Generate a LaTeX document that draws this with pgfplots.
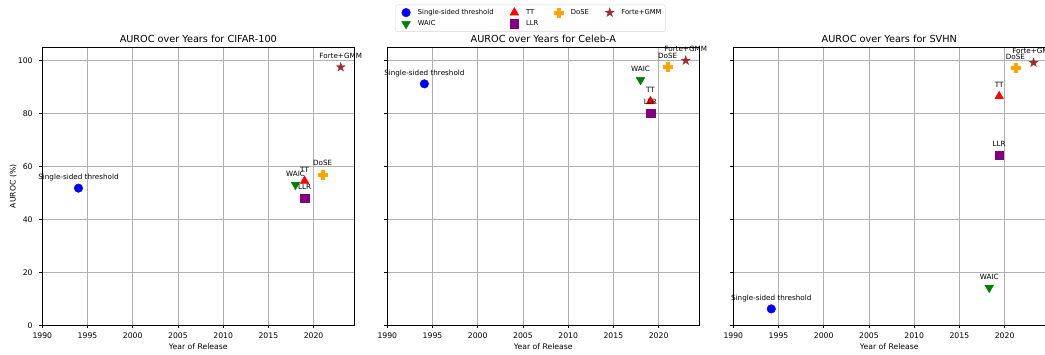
\documentclass[border=0pt]{standalone}
\usepackage{fontspec}
\setmainfont{DejaVu Sans}
\usepackage{pgfplots}
\pgfplotsset{compat=1.18}

\definecolor{cblue}{RGB}{0,0,255}
\definecolor{cgreen}{RGB}{0,128,0}
\definecolor{cred}{RGB}{255,0,0}
\definecolor{cpurple}{RGB}{128,0,128}
\definecolor{corange}{RGB}{255,165,0}
\definecolor{cbrown}{RGB}{165,42,42}
\definecolor{gridgray}{RGB}{176,176,176}
\definecolor{legframe}{RGB}{214,214,214}

\pgfdeclareplotmark{fplus}{%
  \pgfpathmoveto{\pgfpoint{-\pgfplotmarksize}{-0.333\pgfplotmarksize}}%
  \pgfpathlineto{\pgfpoint{-0.333\pgfplotmarksize}{-0.333\pgfplotmarksize}}%
  \pgfpathlineto{\pgfpoint{-0.333\pgfplotmarksize}{-\pgfplotmarksize}}%
  \pgfpathlineto{\pgfpoint{0.333\pgfplotmarksize}{-\pgfplotmarksize}}%
  \pgfpathlineto{\pgfpoint{0.333\pgfplotmarksize}{-0.333\pgfplotmarksize}}%
  \pgfpathlineto{\pgfpoint{\pgfplotmarksize}{-0.333\pgfplotmarksize}}%
  \pgfpathlineto{\pgfpoint{\pgfplotmarksize}{0.333\pgfplotmarksize}}%
  \pgfpathlineto{\pgfpoint{0.333\pgfplotmarksize}{0.333\pgfplotmarksize}}%
  \pgfpathlineto{\pgfpoint{0.333\pgfplotmarksize}{\pgfplotmarksize}}%
  \pgfpathlineto{\pgfpoint{-0.333\pgfplotmarksize}{\pgfplotmarksize}}%
  \pgfpathlineto{\pgfpoint{-0.333\pgfplotmarksize}{0.333\pgfplotmarksize}}%
  \pgfpathlineto{\pgfpoint{-\pgfplotmarksize}{0.333\pgfplotmarksize}}%
  \pgfpathclose
  \pgfusepathqfillstroke
}
\pgfdeclareplotmark{fstar}{%
  \pgfpathmoveto{\pgfpointpolar{90}{\pgfplotmarksize}}%
  \pgfpathlineto{\pgfpointpolar{126}{0.382\pgfplotmarksize}}%
  \pgfpathlineto{\pgfpointpolar{162}{\pgfplotmarksize}}%
  \pgfpathlineto{\pgfpointpolar{198}{0.382\pgfplotmarksize}}%
  \pgfpathlineto{\pgfpointpolar{234}{\pgfplotmarksize}}%
  \pgfpathlineto{\pgfpointpolar{270}{0.382\pgfplotmarksize}}%
  \pgfpathlineto{\pgfpointpolar{306}{\pgfplotmarksize}}%
  \pgfpathlineto{\pgfpointpolar{342}{0.382\pgfplotmarksize}}%
  \pgfpathlineto{\pgfpointpolar{18}{\pgfplotmarksize}}%
  \pgfpathlineto{\pgfpointpolar{54}{0.382\pgfplotmarksize}}%
  \pgfpathclose
  \pgfusepathqfillstroke
}

\pgfplotsset{
  base/.style={
    scale only axis, width=312pt, height=278pt,
    xmin=1990, xmax=2024.5, ymin=0, ymax=105,
    xtick={1990,1995,...,2020}, ytick={0,20,...,100},
    grid=major, grid style={gridgray, line width=0.67pt},
    axis line style={line width=0.67pt},
    tick align=outside, tick pos=left, major tick length=2.9pt,
    tick style={black, line width=0.67pt},
    /pgf/number format/assume math mode=true,
    /pgf/number format/1000 sep={},
    ticklabel style={font=\fontsize{7.7}{9}\selectfont},
    xticklabel style={anchor=base, inner sep=0pt, yshift=-10pt},
    yticklabel style={anchor=east, inner sep=0pt, xshift=-6.6pt},
    xlabel={Year of Release},
    xlabel style={font=\fontsize{7.7}{9}\selectfont, at={(axis description cs:0.5,0)}, anchor=base, yshift=-23.7pt, inner sep=0pt},
    title style={font=\fontsize{9.7}{11}\selectfont, at={(axis description cs:0.5,1)}, anchor=base, yshift=-1.6pt, inner sep=0pt},
    clip=false,
    only marks,
    nodes near coords, point meta=explicit symbolic,
    nodes near coords style={font=\fontsize{7.2}{8}\selectfont, anchor=base, yshift=8.7pt, inner sep=0pt, text=black},
  },
  ss/.style={mark=*, mark size=4.3pt, color=cblue},
  waic/.style={mark=triangle*, mark size=5pt, mark options={rotate=180}, color=cgreen},
  tt/.style={mark=triangle*, mark size=5pt, color=cred},
  llr/.style={mark=square*, mark size=4.3pt, color=cpurple},
  dose/.style={mark=fplus, mark size=4.5pt, color=corange},
  forte/.style={mark=fstar, mark size=4.7pt, color=cbrown},
}

\begin{document}
\begin{tikzpicture}
% CIFAR-100
\begin{axis}[base, at={(42.3pt,28.7pt)}, anchor=south west,
  title={AUROC over Years for CIFAR-100},
  ylabel={AUROC (\%)},
  ylabel style={font=\fontsize{7.7}{9}\selectfont, at={(axis description cs:-0.093,0.5)}, anchor=center}]
\addplot[ss] coordinates {(1994,51.8) [Single-sided threshold]};
\addplot[waic] coordinates {(2018,53.1) [WAIC]};
\addplot[tt] coordinates {(2019,54.5) [TT]};
\addplot[llr] coordinates {(2019,48.0) [LLR]};
\addplot[dose] coordinates {(2021,56.9) [DoSE]};
\addplot[forte] coordinates {(2023,97.5) [Forte+GMM]};
\end{axis}
% Celeb-A
\begin{axis}[base, at={(387.3pt,28.7pt)}, anchor=south west,
  title={AUROC over Years for Celeb-A},
  yticklabels={},
  legend columns=4,
  legend cell align=left,
  legend image code/.code={\path[draw=none, fill=none, rounded corners=0pt] (0pt,-4.3pt) rectangle (13.6pt,4.3pt); \draw[#1, mark repeat=2, mark phase=2] plot coordinates {(0pt,0pt) (6.8pt,0pt) (13.6pt,0pt)};},
  legend style={at={(axis description cs:0.0256,1.1532)}, anchor=north west,
    draw=legframe, rounded corners=2pt, fill=white, inner xsep=3.8pt, inner ysep=2.7pt,
    font=\fontsize{6.8}{8}\selectfont,
    nodes={inner sep=0pt},
    /tikz/row sep=2.5pt,
    /tikz/every odd column/.style={column sep=4.9pt},
    /tikz/every even column/.style={column sep=14pt}}]
\addplot[ss] coordinates {(1994.1,91.2) [Single-sided threshold]};
\addplot[tt] coordinates {(2019.1,84.6) [TT]};
\addplot[dose] coordinates {(2021,97.5) [DoSE]};
\addplot[forte] coordinates {(2023,100) [Forte+GMM]};
\addplot[waic] coordinates {(2018,92.7) [WAIC]};
\addplot[llr] coordinates {(2019.1,80.1) [LLR]};
\legend{Single-sided threshold, TT, DoSE, Forte+GMM, WAIC, LLR}
\end{axis}
% SVHN
\begin{axis}[base, at={(733.3pt,28.7pt)}, anchor=south west,
  title={AUROC over Years for SVHN},
  yticklabels={}]
\addplot[ss] coordinates {(1994.2,6.2) [Single-sided threshold]};
\addplot[waic] coordinates {(2018.3,14.2) [WAIC]};
\addplot[tt] coordinates {(2019.4,86.5) [TT]};
\addplot[llr] coordinates {(2019.4,64.2) [LLR]};
\addplot[dose] coordinates {(2021.2,97.2) [DoSE]};
\addplot[forte] coordinates {(2023.2,99.2) [Forte+GMM]};
\end{axis}
\pgfresetboundingbox
\path[use as bounding box] (0,0) rectangle (1045pt,354pt);
\end{tikzpicture}
\end{document}
